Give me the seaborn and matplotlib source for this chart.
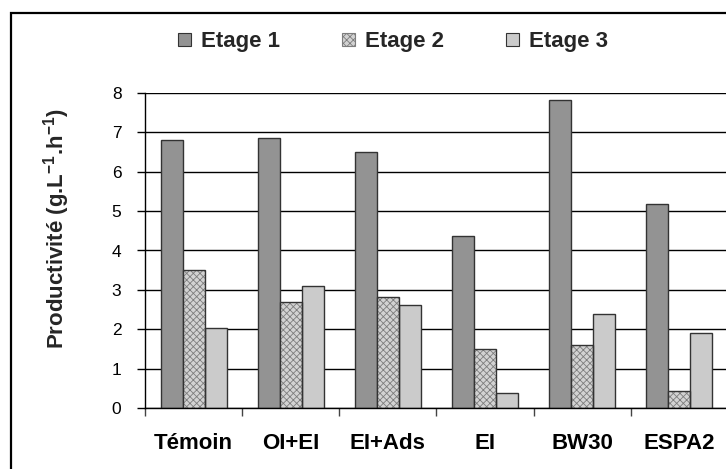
import matplotlib
matplotlib.use("Agg")
import matplotlib.pyplot as plt
from matplotlib.patches import Patch, Rectangle
import seaborn as sns
import pandas as pd

categories = ["Témoin", "OI+EI", "EI+Ads", "EI", "BW30", "ESPA2"]
series = ["Etage 1", "Etage 2", "Etage 3"]
etage1 = [6.8, 6.85, 6.5, 4.37, 7.83, 5.17]
etage2 = [3.5, 2.69, 2.81, 1.49, 1.59, 0.42]
etage3 = [2.02, 3.1, 2.61, 0.38, 2.39, 1.91]
y_ticks = [0, 1, 2, 3, 4, 5, 6, 7, 8]

df = pd.DataFrame({
    "categorie": categories * 3,
    "etage": [s for s in series for _ in categories],
    "valeur": etage1 + etage2 + etage3,
})

sns.set_theme(style="white")
plt.rcParams["font.family"] = ["Liberation Sans", "DejaVu Sans"]
plt.rcParams["mathtext.fontset"] = "custom"
plt.rcParams["mathtext.rm"] = "Liberation Sans"
plt.rcParams["mathtext.bf"] = "Liberation Sans:bold"
plt.rcParams["hatch.linewidth"] = 0.6

face = {"Etage 1": "#939393", "Etage 2": "#d2d2d2", "Etage 3": "#cbcbcb"}
edge = "#333333"
hatch_col = "#7d7d7d"
bold_size = 16

fig = plt.figure(figsize=(7.26, 4.69), dpi=100)
ax = fig.add_axes([145 / 726, 1 - 408 / 469, 583 / 726, 315 / 469])

sns.barplot(data=df, x="categorie", y="valeur", hue="etage", order=categories,
            hue_order=series, palette=face, width=0.68, ax=ax, legend=False,
            edgecolor=edge, linewidth=1.0, saturation=1)

for i, container in enumerate(ax.containers):
    for bar in container:
        bar.set_edgecolor(edge)
        if i == 1:
            # patterned fill, then a dark outline on top
            bar.set_hatch("xxxxx")
            bar.set_edgecolor(hatch_col)
            bar.set_linewidth(0)
            ax.add_patch(Rectangle(bar.get_xy(), bar.get_width(), bar.get_height(),
                                   fill=False, edgecolor=edge, linewidth=1.0, zorder=bar.get_zorder() + 0.1))

ax.set_xlim(-0.5, len(categories) - 0.5)
ax.set_ylim(0, 8)
ax.set_yticks(y_ticks)
ax.set_yticklabels([str(t) for t in y_ticks], fontsize=12.5)
ax.yaxis.grid(True, color="black", linewidth=1.0)
ax.set_axisbelow(True)
ax.tick_params(axis="y", left=True, length=6, width=1, color="black", pad=11,
               labelcolor="black")

ax.set_xticks(range(len(categories)))
ax.set_xticklabels(categories, fontsize=bold_size, fontweight="bold")
ax.set_xticks([x - 0.5 for x in range(len(categories) + 1)], minor=True)
ax.tick_params(axis="x", which="major", length=0, pad=18, labelcolor="black")
ax.tick_params(axis="x", which="minor", bottom=True, length=6, width=1, color="#444444")
ax.set_xlabel("")
ax.set_ylabel("")

for s in ["top", "right"]:
    ax.spines[s].set_visible(False)
for s in ["left", "bottom"]:
    ax.spines[s].set_color("black")
    ax.spines[s].set_linewidth(1.0)

fig.text(57 / 726, 1 - 229 / 469, "Productivité (g.L$^{\\mathbf{-1}}$.h$^{\\mathbf{-1}}$)",
         rotation=90, ha="center", va="center", fontsize=bold_size, fontweight="bold")

handles = [
    Patch(facecolor=face["Etage 1"], edgecolor=edge, linewidth=0.8),
    Patch(facecolor=face["Etage 2"], edgecolor=hatch_col, hatch="xxxxx", linewidth=0.8),
    Patch(facecolor=face["Etage 3"], edgecolor=edge, linewidth=0.8),
]
fig.legend(handles, series, loc="center", bbox_to_anchor=(393 / 726, 1 - 42 / 469),
           ncol=3, frameon=False, prop={"weight": "bold", "size": bold_size},
           handlelength=0.57, handleheight=0.57, handletextpad=0.45,
           columnspacing=2.8)

fig.patches.append(Rectangle((11 / 726, -0.05), 1.2, 1 - 13.5 / 469 + 0.05,
                             transform=fig.transFigure, fill=False,
                             edgecolor="black", linewidth=1.6))

fig.savefig("out.png", dpi=100)
